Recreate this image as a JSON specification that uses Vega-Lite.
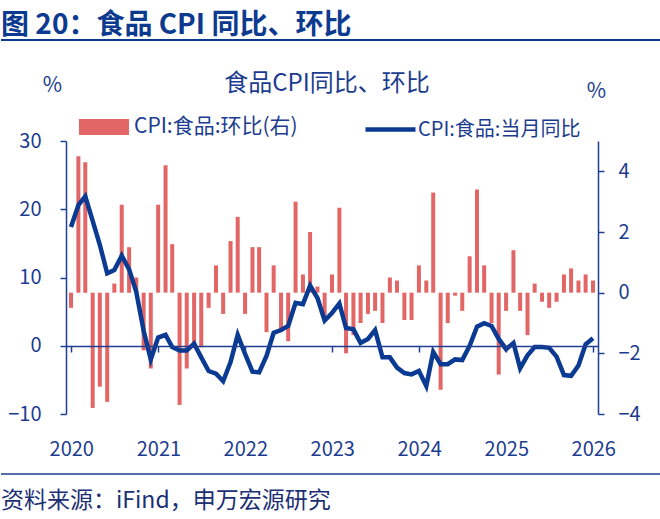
{
  "$schema": "https://vega.github.io/schema/vega-lite/v6.json",
  "padding": {"left": 0, "top": 12, "right": 0, "bottom": 0},
  "background": "white",
  "config": {"view": {"stroke": null}, "font": "Noto Sans CJK SC"},
  "spacing": 31,
  "resolve": {"legend": {"fill": "independent", "stroke": "independent"}},
  "vconcat": [
    {
      "width": 660,
      "height": 1,
      "title": {"text": "图 20：食品 CPI 同比、环比", "anchor": "start", "frame": "group", "orient": "top", "baseline": "alphabetic", "offset": -23, "fontSize": 28, "fontWeight": "bold", "color": "#0c3a8f"},
      "data": {"values": [{}]},
      "mark": {"type": "rule", "color": "#0c3a8f", "strokeWidth": 2},
      "encoding": {"y": {"datum": 1, "type": "quantitative", "scale": {"domain": [0, 1], "nice": false}, "axis": null}}
    },
    {
      "spacing": 14,
      "resolve": {"legend": {"fill": "independent", "stroke": "independent"}},
      "vconcat": [
        {
          "width": 660,
          "height": 273,
          "title": {"text": "食品CPI同比、环比", "anchor": "middle", "frame": "group", "baseline": "alphabetic", "offset": -41, "fontSize": 24, "fontWeight": "normal", "color": "#1c3d8f", "dx": -4},
          "data": {"values": [
            {"date": "2019/12/31", "mom": -0.5, "yoy": 17.4},
            {"date": "2020/01/31", "mom": 4.5, "yoy": 20.6},
            {"date": "2020/02/29", "mom": 4.3, "yoy": 21.9},
            {"date": "2020/03/31", "mom": -3.8, "yoy": 18.3},
            {"date": "2020/04/30", "mom": -3.1, "yoy": 14.8},
            {"date": "2020/05/31", "mom": -3.6, "yoy": 10.6},
            {"date": "2020/06/30", "mom": 0.3, "yoy": 11.1},
            {"date": "2020/07/31", "mom": 2.9, "yoy": 13.2},
            {"date": "2020/08/31", "mom": 1.5, "yoy": 11.2},
            {"date": "2020/09/30", "mom": 0.5, "yoy": 7.9},
            {"date": "2020/10/31", "mom": -1.9, "yoy": 2.2},
            {"date": "2020/11/30", "mom": -2.5, "yoy": -2.0},
            {"date": "2020/12/31", "mom": 2.9, "yoy": 1.2},
            {"date": "2021/01/31", "mom": 4.2, "yoy": 1.6},
            {"date": "2021/02/28", "mom": 1.6, "yoy": -0.2},
            {"date": "2021/03/31", "mom": -3.7, "yoy": -0.7},
            {"date": "2021/04/30", "mom": -2.5, "yoy": -0.7},
            {"date": "2021/05/31", "mom": -1.7, "yoy": 0.3},
            {"date": "2021/06/30", "mom": -1.8, "yoy": -1.7},
            {"date": "2021/07/31", "mom": -0.5, "yoy": -3.7},
            {"date": "2021/08/31", "mom": 0.9, "yoy": -4.1},
            {"date": "2021/09/30", "mom": -0.7, "yoy": -5.2},
            {"date": "2021/10/31", "mom": 1.7, "yoy": -2.4},
            {"date": "2021/11/30", "mom": 2.5, "yoy": 1.6},
            {"date": "2021/12/31", "mom": -0.7, "yoy": -1.2},
            {"date": "2022/01/31", "mom": 1.5, "yoy": -3.8},
            {"date": "2022/02/28", "mom": 1.5, "yoy": -3.9},
            {"date": "2022/03/31", "mom": -1.3, "yoy": -1.5},
            {"date": "2022/04/30", "mom": 0.9, "yoy": 1.9},
            {"date": "2022/05/31", "mom": -1.3, "yoy": 2.3},
            {"date": "2022/06/30", "mom": -1.6, "yoy": 2.9},
            {"date": "2022/07/31", "mom": 3.0, "yoy": 6.3},
            {"date": "2022/08/31", "mom": 0.6, "yoy": 6.1},
            {"date": "2022/09/30", "mom": 2.0, "yoy": 8.8},
            {"date": "2022/10/31", "mom": 0.2, "yoy": 7.0},
            {"date": "2022/11/30", "mom": -0.8, "yoy": 3.7},
            {"date": "2022/12/31", "mom": 0.6, "yoy": 4.8},
            {"date": "2023/01/31", "mom": 2.8, "yoy": 6.2},
            {"date": "2023/02/28", "mom": -2.0, "yoy": 2.6},
            {"date": "2023/03/31", "mom": -1.4, "yoy": 2.4},
            {"date": "2023/04/30", "mom": -1.0, "yoy": 0.4},
            {"date": "2023/05/31", "mom": -0.7, "yoy": 1.0},
            {"date": "2023/06/30", "mom": -0.6, "yoy": 2.3},
            {"date": "2023/07/31", "mom": -1.0, "yoy": -1.7},
            {"date": "2023/08/31", "mom": 0.5, "yoy": -1.7},
            {"date": "2023/09/30", "mom": 0.4, "yoy": -3.2},
            {"date": "2023/10/31", "mom": -0.9, "yoy": -4.0},
            {"date": "2023/11/30", "mom": -0.9, "yoy": -4.2},
            {"date": "2023/12/31", "mom": 0.9, "yoy": -3.7},
            {"date": "2024/01/31", "mom": 0.4, "yoy": -5.9},
            {"date": "2024/02/29", "mom": 3.3, "yoy": -0.9},
            {"date": "2024/03/31", "mom": -3.2, "yoy": -2.7},
            {"date": "2024/04/30", "mom": -1.0, "yoy": -2.7},
            {"date": "2024/05/31", "mom": -0.1, "yoy": -2.0},
            {"date": "2024/06/30", "mom": -0.6, "yoy": -2.1},
            {"date": "2024/07/31", "mom": 1.2, "yoy": 0.0},
            {"date": "2024/08/31", "mom": 3.4, "yoy": 2.8},
            {"date": "2024/09/30", "mom": 0.9, "yoy": 3.3},
            {"date": "2024/10/31", "mom": -1.0, "yoy": 2.9},
            {"date": "2024/11/30", "mom": -2.7, "yoy": 1.0},
            {"date": "2024/12/31", "mom": -0.6, "yoy": -0.5},
            {"date": "2025/01/31", "mom": 1.4, "yoy": 0.4},
            {"date": "2025/02/28", "mom": -0.6, "yoy": -3.3},
            {"date": "2025/03/31", "mom": -1.4, "yoy": -1.4},
            {"date": "2025/04/30", "mom": 0.3, "yoy": -0.2},
            {"date": "2025/05/31", "mom": -0.3, "yoy": -0.2},
            {"date": "2025/06/30", "mom": -0.5, "yoy": -0.3},
            {"date": "2025/07/31", "mom": -0.3, "yoy": -1.6},
            {"date": "2025/08/31", "mom": 0.6, "yoy": -4.3},
            {"date": "2025/09/30", "mom": 0.8, "yoy": -4.4},
            {"date": "2025/10/31", "mom": 0.4, "yoy": -2.9},
            {"date": "2025/11/30", "mom": 0.6, "yoy": 0.2},
            {"date": "2025/12/31", "mom": 0.4, "yoy": 1.1}
          ]},
          "layer": [
            {
              "mark": {"type": "bar", "width": 4},
              "encoding": {
                "x": {
                  "field": "date", "type": "temporal",
                  "scale": {"domain": [{"year": 2019, "month": 12, "date": 31}, {"year": 2025, "month": 12, "date": 31}], "range": [65, 597], "nice": false},
                  "axis": {
                    "values": [{"year": 2020, "month": 1, "date": 1}, {"year": 2021, "month": 1, "date": 1}, {"year": 2022, "month": 1, "date": 1}, {"year": 2023, "month": 1, "date": 1}, {"year": 2024, "month": 1, "date": 1}, {"year": 2025, "month": 1, "date": 1}, {"year": 2026, "month": 1, "date": 1}],
                    "format": "%Y", "labelFontSize": 20, "labelColor": "#1c3d8f", "labelPadding": 25, "labelAlign": "center",
                    "labelFlush": false, "labelOverlap": false,
                    "ticks": false, "domain": false, "grid": false, "title": null
                  }
                },
                "y": {
                  "field": "mom", "type": "quantitative",
                  "scale": {"domain": [-4, 5], "nice": false, "zero": false},
                  "axis": {
                    "orient": "right", "offset": -63, "values": [-4, -2, 0, 2, 4], "grid": false,
                    "domainColor": "#1f3f95", "domainWidth": 1.5, "tickColor": "#1f3f95", "tickWidth": 1.5, "tickSize": 6,
                    "labelFontSize": 20, "labelColor": "#1c3d8f", "labelPadding": 14,
                    "title": "%", "titleAngle": 0, "titleX": -2, "titleY": -50, "titleAlign": "center", "titleBaseline": "middle",
                    "titleFontSize": 21, "titleFontWeight": "normal", "titleColor": "#1c3d8f"
                  }
                },
                "fill": {
                  "datum": "CPI:食品:环比(右)",
                  "scale": {"range": ["#e36666"]},
                  "legend": {
                    "orient": "none", "legendX": 78, "legendY": -39, "title": null,
                    "symbolType": "M-1,-0.32H1V0.32H-1Z", "symbolSize": 2500, "symbolStrokeWidth": 0,
                    "labelFontSize": 21, "labelColor": "#1c3d8f", "labelOffset": 5, "labelLimit": 400
                  }
                }
              }
            },
            {
              "mark": {"type": "line", "strokeWidth": 4.5},
              "encoding": {
                "x": {
                  "field": "date", "type": "temporal",
                  "axis": {
                    "orient": "bottom", "offset": -68, "zindex": 1,
                    "values": [{"year": 2020, "month": 1, "date": 1}, {"year": 2021, "month": 1, "date": 1}, {"year": 2022, "month": 1, "date": 1}, {"year": 2023, "month": 1, "date": 1}, {"year": 2024, "month": 1, "date": 1}, {"year": 2025, "month": 1, "date": 1}, {"year": 2026, "month": 1, "date": 1}],
                    "labels": false, "grid": false, "title": null,
                    "domainColor": "#1f3f95", "domainWidth": 1.5, "tickColor": "#1f3f95", "tickWidth": 1.5, "tickSize": 6
                  }
                },
                "y": {
                  "field": "yoy", "type": "quantitative",
                  "scale": {"domain": [-10, 30], "nice": false},
                  "axis": {
                    "orient": "left", "offset": -65, "values": [-10, 0, 10, 20, 30], "grid": false,
                    "domainColor": "#1f3f95", "domainWidth": 1.5, "tickColor": "#1f3f95", "tickWidth": 1.5, "tickSize": 6,
                    "labelFontSize": 20, "labelColor": "#1c3d8f", "labelPadding": 19,
                    "title": "%", "titleAngle": 0, "titleX": -14, "titleY": -56, "titleAlign": "center", "titleBaseline": "middle",
                    "titleFontSize": 21, "titleFontWeight": "normal", "titleColor": "#1c3d8f"
                  }
                },
                "stroke": {
                  "datum": "CPI:食品:当月同比",
                  "scale": {"range": ["#0a3a91"]},
                  "legend": {
                    "orient": "none", "legendX": 362, "legendY": -39, "title": null,
                    "symbolType": "stroke", "symbolSize": 2500, "symbolStrokeWidth": 4.5,
                    "labelFontSize": 20, "labelColor": "#1c3d8f", "labelOffset": 0, "labelLimit": 400
                  }
                }
              }
            }
          ],
          "resolve": {"scale": {"y": "independent"}, "axis": {"x": "independent"}}
        },
        {
          "width": 660,
          "height": 1,
          "title": {"text": "资料来源：iFind，申万宏源研究", "anchor": "start", "frame": "group", "orient": "bottom", "baseline": "alphabetic", "offset": 33, "fontSize": 23, "fontWeight": "normal", "color": "#1c2f73"},
          "data": {"values": [{}]},
          "mark": {"type": "rule", "color": "#1c3d8f", "strokeWidth": 1.5},
          "encoding": {"y": {"datum": 0, "type": "quantitative", "scale": {"domain": [0, 1], "nice": false}, "axis": null}}
        }
      ]
    }
  ]
}
